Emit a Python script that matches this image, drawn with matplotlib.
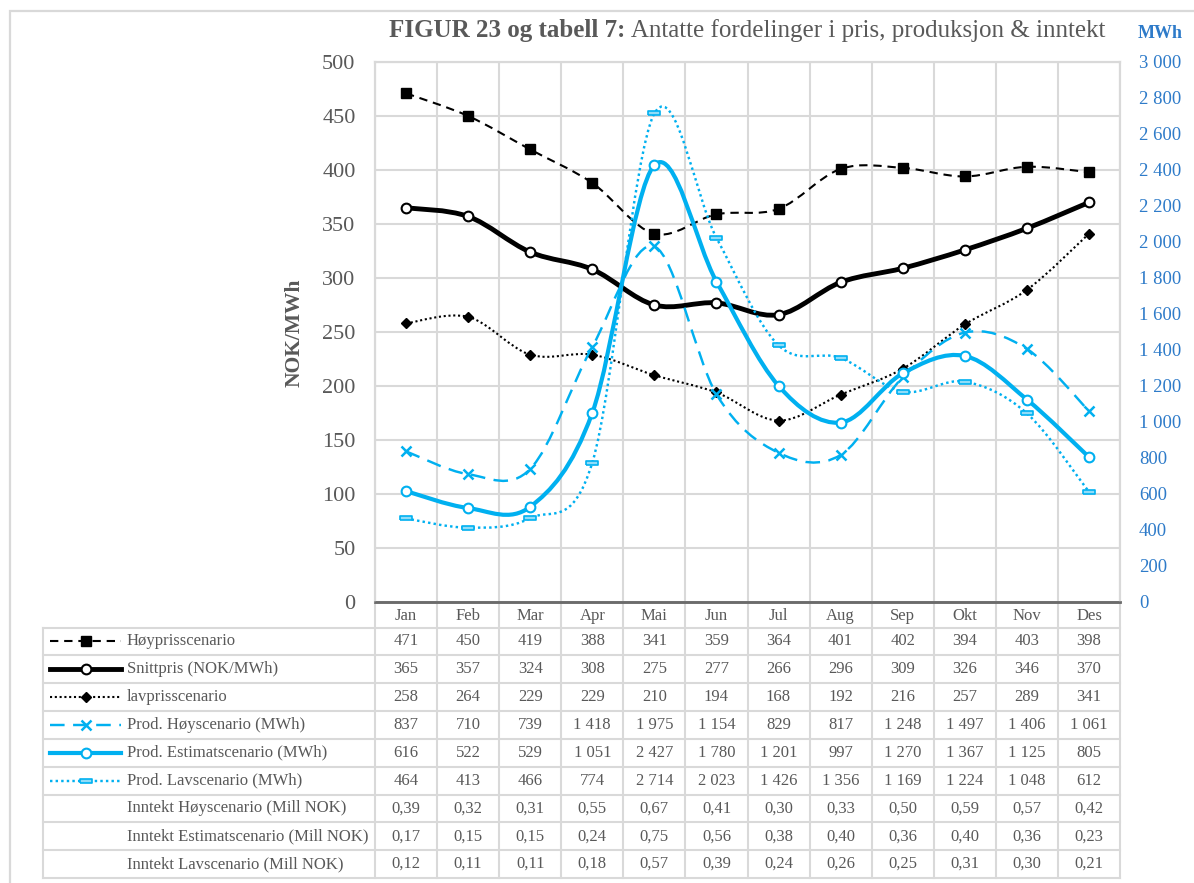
import numpy as np
import matplotlib
matplotlib.use("Agg")
import matplotlib.pyplot as plt
from matplotlib.path import Path
from matplotlib.patches import PathPatch
from matplotlib.lines import Line2D

plt.rcParams['font.family'] = ['Liberation Serif', 'DejaVu Serif']

months = ['Jan', 'Feb', 'Mar', 'Apr', 'Mai', 'Jun', 'Jul', 'Aug', 'Sep', 'Okt', 'Nov', 'Des']
hoypris = [471, 450, 419, 388, 341, 359, 364, 401, 402, 394, 403, 398]
snittpris = [365, 357, 324, 308, 275, 277, 266, 296, 309, 326, 346, 370]
lavpris = [258, 264, 229, 229, 210, 194, 168, 192, 216, 257, 289, 341]
prod_hoy = [837, 710, 739, 1418, 1975, 1154, 829, 817, 1248, 1497, 1406, 1061]
prod_est = [616, 522, 529, 1051, 2427, 1780, 1201, 997, 1270, 1367, 1125, 805]
prod_lav = [464, 413, 466, 774, 2714, 2023, 1426, 1356, 1169, 1224, 1048, 612]
inntekt_hoy = [0.39, 0.32, 0.31, 0.55, 0.67, 0.41, 0.30, 0.33, 0.50, 0.59, 0.57, 0.42]
inntekt_est = [0.17, 0.15, 0.15, 0.24, 0.75, 0.56, 0.38, 0.40, 0.36, 0.40, 0.36, 0.23]
inntekt_lav = [0.12, 0.11, 0.11, 0.18, 0.57, 0.39, 0.24, 0.26, 0.25, 0.31, 0.30, 0.21]

GRAY = '#595959'
GRID = '#d9d9d9'
BLUE = '#00b0f0'
AXBLUE = '#2e7bc9'

W, H = 1194, 883
fig = plt.figure(figsize=(W / 100, H / 100), dpi=100)

# plot area in pixels
L, R, T, B = 375, 1120, 62, 602
ax = fig.add_axes([L / W, 1 - B / H, (R - L) / W, (B - T) / H])
ax2 = ax.twinx()

x = np.arange(len(months))


def smooth_path(xs, ys):
    # bezier segments like the spreadsheet "smoothed line" option
    pts = np.column_stack([xs, ys]).astype(float)
    n = len(pts)
    verts = [pts[0]]
    codes = [Path.MOVETO]
    for i in range(n - 1):
        p0 = pts[max(i - 1, 0)]
        p1 = pts[i]
        p2 = pts[i + 1]
        p3 = pts[min(i + 2, n - 1)]
        verts += [p1 + (p2 - p0) / 6, p2 - (p3 - p1) / 6, p2]
        codes += [Path.CURVE4] * 3
    return Path(verts, codes)


dash_rect = [(-1, -0.3), (1, -0.3), (1, 0.3), (-1, 0.3), (-1, -0.3)]

series = [
    # label, data, axis, color, lw, dashes, marker kwargs
    ('Høyprisscenario', hoypris, ax, 'black', 1.5, (0, (4, 2.8)),
     dict(marker='s', ms=6.5, mfc='black', mec='black')),
    ('Snittpris (NOK/MWh)', snittpris, ax, 'black', 3.5, '-',
     dict(marker='o', ms=7, mfc='white', mec='black', mew=1.5)),
    ('lavprisscenario', lavpris, ax, 'black', 1.5, (0, (1, 1.3)),
     dict(marker='D', ms=5, mfc='black', mec='black')),
    ('Prod. Høyscenario (MWh)', prod_hoy, ax2, BLUE, 1.75, (0, (6, 3.5)),
     dict(marker='x', ms=7.5, mec=BLUE, mew=1.8)),
    ('Prod. Estimatscenario (MWh)', prod_est, ax2, BLUE, 3.0, '-',
     dict(marker='o', ms=7, mfc='white', mec=BLUE, mew=1.5)),
    ('Prod. Lavscenario (MWh)', prod_lav, ax2, BLUE, 1.75, (0, (1, 1.3)),
     dict(marker=dash_rect, ms=8, mfc='#8fdcf8', mec=BLUE, mew=1.2)),
]

for label, data, a, col, lw, ls, mk in series:
    patch = PathPatch(smooth_path(x, data), fill=False, edgecolor=col,
                      lw=lw, linestyle=ls, capstyle='butt', joinstyle='round')
    a.add_patch(patch)
    a.plot(x, data, linestyle='none', zorder=3, **mk)

ax.set_xlim(-0.5, len(months) - 0.5)
ax.set_ylim(0, 500)
ax2.set_ylim(0, 3000)
ax.set_yticks(np.arange(0, 501, 50))
ax2.set_yticks(np.arange(0, 3001, 200))
ax2.set_yticklabels([f'{v:,}'.replace(',', ' ') for v in range(0, 3001, 200)])
ax.set_xticks(np.arange(-0.5, len(months), 1))
ax.set_xticklabels([])
ax.grid(True, color=GRID, lw=1.5, zorder=0)
ax.set_axisbelow(True)
ax.tick_params(axis='both', length=0)
ax.tick_params(axis='y', labelsize=16, labelcolor=GRAY, pad=14)
ax2.tick_params(axis='y', length=0, labelsize=13.5, labelcolor=AXBLUE, pad=13.5)
for a in (ax, ax2):
    for s in a.spines.values():
        s.set_color(GRID)
        s.set_linewidth(1.5)
    a.spines['bottom'].set_color('#6b6b6b')
    a.spines['bottom'].set_linewidth(1.8)
ax2.patch.set_visible(False)

fig.text(295 / W, 1 - 333 / H, 'NOK/MWh', rotation=90, ha='center', va='center',
         fontsize=15.5, fontweight='bold', color=GRAY)

# title: bold prefix followed by regular text, right aligned
t2 = fig.text(1105 / W, 1 - 31 / H, ' Antatte fordelinger i pris, produksjon & inntekt',
              ha='right', va='center', fontsize=18, color=GRAY)
renderer = fig.canvas.get_renderer()
bb = t2.get_window_extent(renderer=renderer)
fig.text(bb.x0 / W, 1 - 31 / H, 'FIGUR 23 og tabell 7:', ha='right', va='center',
         fontsize=18, fontweight='bold', color=GRAY)
fig.text(1160 / W, 1 - 33 / H, 'MWh', ha='center', va='center', fontsize=13,
         fontweight='bold', color=AXBLUE)

# data table under the plot, drawn in pixel coordinates
tab = fig.add_axes([0, 0, 1, 1], zorder=-1)
tab.set_xlim(0, W)
tab.set_ylim(H, 0)
tab.axis('off')

# outer chart border
tab.plot([10, 10, W], [H, 11, 11], color=GRID, lw=1.6, solid_joinstyle='miter')

colw = (R - L) / len(months)
head_bot = 627.5
tab_left, tab_bot = 43, 878
rowh = (tab_bot - head_bot) / 9

for k in range(len(months) + 1):
    xc = L + k * colw
    tab.plot([xc, xc], [B, tab_bot], color=GRID, lw=1.5)
tab.plot([tab_left, tab_left], [head_bot, tab_bot], color=GRID, lw=1.5)
for r in range(10):
    yy = head_bot + r * rowh
    tab.plot([tab_left, R], [yy, yy], color=GRID, lw=1.5)

for i, m in enumerate(months):
    tab.text(L + (i + 0.5) * colw, (B + head_bot) / 2 + 1, m, ha='center', va='center',
             fontsize=12, color=GRAY)


def fmt_int(v):
    return f'{v:,}'.replace(',', ' ')


def fmt_dec(v):
    return f'{v:.2f}'.replace('.', ',')


rows = [
    (series[0][0], hoypris, fmt_int),
    (series[1][0], snittpris, fmt_int),
    (series[2][0], lavpris, fmt_int),
    (series[3][0], prod_hoy, fmt_int),
    (series[4][0], prod_est, fmt_int),
    (series[5][0], prod_lav, fmt_int),
    ('Inntekt Høyscenario (Mill NOK)', inntekt_hoy, fmt_dec),
    ('Inntekt Estimatscenario (Mill NOK)', inntekt_est, fmt_dec),
    ('Inntekt Lavscenario (Mill NOK)', inntekt_lav, fmt_dec),
]

for r, (label, vals, fmt) in enumerate(rows):
    yc = head_bot + (r + 0.5) * rowh
    tab.text(127, yc, label, ha='left', va='center', fontsize=12, color=GRAY)
    for i, v in enumerate(vals):
        tab.text(L + (i + 0.5) * colw, yc, fmt(v), ha='center', va='center',
                 fontsize=12, color=GRAY)
    if r < len(series):
        _, _, _, col, lw, ls, mk = series[r]
        tab.add_line(Line2D([50, 121], [yc, yc], color=col, lw=lw, linestyle=ls,
                            dash_capstyle='butt'))
        tab.plot([86], [yc], linestyle='none', **mk)

fig.savefig('out.png', dpi=100)
